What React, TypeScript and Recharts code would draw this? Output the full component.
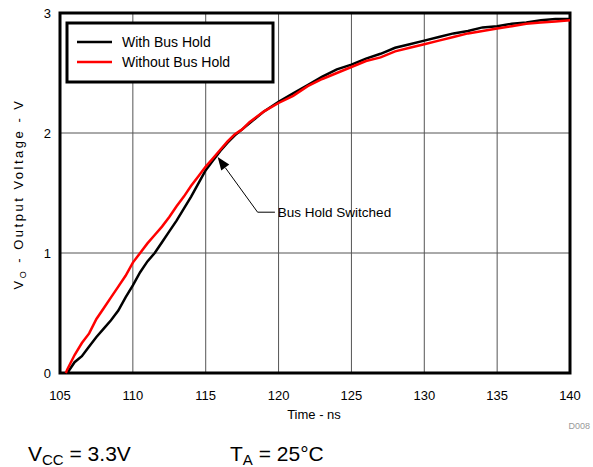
import React from "react";
import {
  LineChart,
  Line,
  XAxis,
  YAxis,
  CartesianGrid,
  ReferenceArea,
  ReferenceLine,
  ReferenceDot,
} from "recharts";

// time axis in ns
const TIME = [
  105.4, 105.5, 106, 106.5, 107, 107.5, 108, 108.5, 109, 109.5, 110, 110.5,
  111, 111.5, 112, 112.5, 113, 113.5, 114, 114.5, 115, 115.5, 116, 116.5, 117,
  117.5, 118, 119, 120, 121, 122, 123, 124, 125, 126, 127, 128, 129, 130, 131,
  132, 133, 134, 135, 136, 137, 138, 139, 140,
];

// output voltage, with bus hold (black)
const WITH_HOLD = [
  null, 0, 0.09, 0.14, 0.22, 0.3, 0.37, 0.44, 0.52, 0.63, 0.73, 0.84, 0.93,
  1.0, 1.09, 1.18, 1.27, 1.37, 1.47, 1.58, 1.69, 1.77, 1.85, 1.92, 1.98, 2.03,
  2.08, 2.18, 2.26, 2.33, 2.4, 2.47, 2.53, 2.57, 2.62, 2.66, 2.71, 2.74, 2.77,
  2.8, 2.83, 2.85, 2.88, 2.89, 2.91, 2.92, 2.94, 2.95, 2.95,
];

// output voltage, without bus hold (red)
const WITHOUT_HOLD = [
  0, 0.03, 0.15, 0.25, 0.33, 0.45, 0.54, 0.63, 0.72, 0.81, 0.92, 1.0, 1.08,
  1.15, 1.22, 1.3, 1.39, 1.47, 1.56, 1.64, 1.72, 1.79, 1.86, 1.93, 1.99, 2.03,
  2.09, 2.18, 2.25, 2.31, 2.39, 2.45, 2.5, 2.55, 2.6, 2.63, 2.68, 2.71, 2.74,
  2.77, 2.8, 2.83, 2.85, 2.87, 2.89, 2.91, 2.92, 2.93, 2.94,
];

const X_TICKS = [105, 110, 115, 120, 125, 130, 135, 140];
const Y_TICKS = [0, 1, 2, 3];

const FONT = "'Liberation Sans', Arial, Helvetica, sans-serif";

const data = TIME.map((t, i) => ({
  t,
  withHold: WITH_HOLD[i],
  withoutHold: WITHOUT_HOLD[i],
}));

const ArrowHead = (props: any) => {
  const { cx, cy } = props;
  if (cx == null || cy == null) return null;
  return (
    <polygon
      points={`${cx},${cy} ${cx + 11.6},${cy + 7.6} ${cx + 3.6},${cy + 13.4}`}
      fill="#000"
    />
  );
};

const AnnotationText = (props: any) => {
  const { cx, cy } = props;
  if (cx == null || cy == null) return null;
  return (
    <text x={cx} y={cy + 5} fontSize={13.5} fontFamily={FONT} fill="#000">
      Bus Hold Switched
    </text>
  );
};

export default function App() {
  return (
    <div
      style={{
        position: "absolute",
        left: 0,
        top: 0,
        width: 593,
        height: 467,
        background: "#fff",
      }}
    >
      <LineChart
        width={593}
        height={467}
        data={data}
        margin={{ top: 13, right: 23, bottom: 0, left: 0 }}
      >
        <CartesianGrid stroke="#555" strokeWidth={1} />
        <XAxis
          dataKey="t"
          type="number"
          domain={[105, 140]}
          ticks={X_TICKS}
          height={94}
          tickLine={false}
          axisLine={false}
          tickSize={0}
          tickMargin={18}
          tick={{ fontSize: 13, fill: "#000", fontFamily: FONT }}
        />
        <YAxis
          type="number"
          domain={[0, 3]}
          ticks={Y_TICKS}
          width={60}
          tickLine={false}
          axisLine={false}
          tickSize={0}
          tickMargin={9}
          tick={{ fontSize: 13, fill: "#000", fontFamily: FONT }}
        />
        <Line
          dataKey="withHold"
          stroke="#000"
          strokeWidth={2.5}
          dot={false}
          type="linear"
          isAnimationActive={false}
        />
        <Line
          dataKey="withoutHold"
          stroke="#ff0000"
          strokeWidth={2.5}
          dot={false}
          type="linear"
          isAnimationActive={false}
        />
        <ReferenceLine
          segment={[
            { x: 116.35, y: 1.71 },
            { x: 118.56, y: 1.34 },
          ]}
          stroke="#000"
          strokeWidth={1}
        />
        <ReferenceLine
          segment={[
            { x: 118.56, y: 1.34 },
            { x: 119.75, y: 1.34 },
          ]}
          stroke="#000"
          strokeWidth={1}
        />
        <ReferenceDot x={115.82} y={1.8} r={0} shape={ArrowHead} />
        <ReferenceDot x={119.95} y={1.34} r={0} shape={AnnotationText} />
        <ReferenceArea
          x1={105}
          x2={140}
          y1={0}
          y2={3}
          fill="none"
          stroke="#000"
          strokeWidth={3}
          ifOverflow="visible"
        />
      </LineChart>
      <svg
        width={593}
        height={467}
        style={{ position: "absolute", left: 0, top: 0, pointerEvents: "none" }}
        fontFamily={FONT}
      >
        {/* legend */}
        <rect
          x={67}
          y={23}
          width={206}
          height={59}
          fill="#fff"
          stroke="#000"
          strokeWidth={3}
        />
        <line x1={77} y1={42} x2={112} y2={42} stroke="#000" strokeWidth={2.5} />
        <text x={122} y={47} fontSize={14} fill="#000">
          With Bus Hold
        </text>
        <line x1={77} y1={62} x2={112} y2={62} stroke="#ff0000" strokeWidth={2.5} />
        <text x={122} y={67} fontSize={14} fill="#000">
          Without Bus Hold
        </text>

        {/* axis titles */}
        <text
          transform="translate(23,194) rotate(-90)"
          textAnchor="middle"
          fontSize={13}
          letterSpacing={2.5}
          fill="#000"
        >
          V
          <tspan fontSize={9} dy={3}>
            O
          </tspan>
          <tspan dy={-3}> - Output Voltage - V</tspan>
        </text>
        <text x={314} y={419} textAnchor="middle" fontSize={13} fill="#000">
          Time - ns
        </text>
        <text x={590} y={429} textAnchor="end" fontSize={9} fill="#999">
          D008
        </text>

        {/* conditions */}
        <text x={28} y={461} fontSize={21} fill="#000">
          V
          <tspan fontSize={15} dy={4}>
            CC
          </tspan>
          <tspan dy={-4}> = 3.3V</tspan>
        </text>
        <text x={230} y={461} fontSize={21} fill="#000">
          T
          <tspan fontSize={15} dy={4}>
            A
          </tspan>
          <tspan dy={-4}> = 25°C</tspan>
        </text>
      </svg>
    </div>
  );
}
